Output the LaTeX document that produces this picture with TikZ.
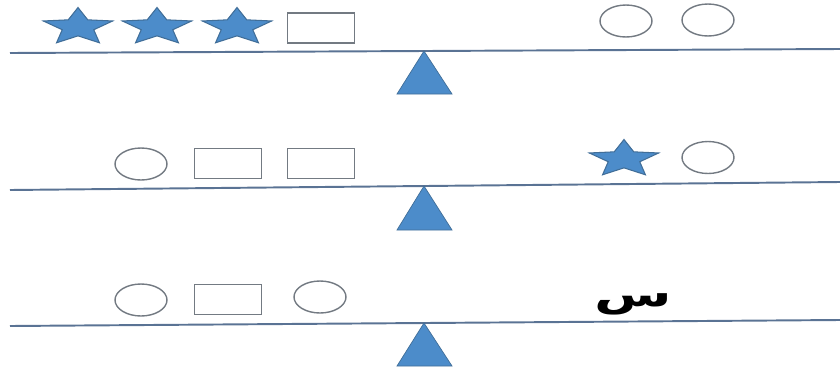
\documentclass[tikz,border=0pt]{standalone}
\usepackage{fontspec}
\usetikzlibrary{shapes.geometric}
\newfontfamily\arabicfont[Script=Arabic]{DejaVu Sans}
\TeXXeTstate=1

\definecolor{beamblue}{RGB}{90,115,148}
\definecolor{fillblue}{RGB}{76,140,202}
\definecolor{edgeblue}{RGB}{65,110,152}
\definecolor{outlinegray}{RGB}{115,122,130}

\tikzset{
  beam/.style={line width=1.1pt, beamblue},
  pivot/.style={fill=fillblue, draw=edgeblue, line width=0.4pt},
  starshape/.style={star, star points=5, star point ratio=2.2, minimum size=0.78cm,
    inner sep=0pt, fill=fillblue, draw=edgeblue, line width=0.6pt, xscale=1.87},
  ringshape/.style={ellipse, minimum width=1.04cm, minimum height=0.64cm,
    inner sep=0pt, draw=outlinegray, line width=0.8pt},
  boxshape/.style={rectangle, minimum width=1.34cm, minimum height=0.6cm,
    inner sep=0pt, draw=outlinegray, line width=0.8pt}
}

\begin{document}
\begin{tikzpicture}[x=0.02cm, y=-0.02cm]

    \useasboundingbox (0,0) rectangle (840,369);

    % ==========================================
    % TOP BALANCE
    % ==========================================

    % Beam and pivot
    \draw[beam] (10,53) -- (840,49);
    \fill[pivot] (424,51) -- (452,94) -- (397,94) -- cycle;

    % Left pan
    \node[starshape] (starA) at (78,27) {};
    \node[starshape] (starB) at (157,27) {};
    \node[starshape] (starC) at (237,27) {};
    \node[boxshape] (boxA) at (321,28) {};

    % Right pan
    \node[ringshape] (ringA) at (626,21) {};
    \node[ringshape] (ringB) at (708,20) {};

    % ==========================================
    % MIDDLE BALANCE
    % ==========================================

    % Beam and pivot
    \draw[beam] (10,190) -- (840,182);
    \fill[pivot] (424,186) -- (452,230) -- (397,230) -- cycle;

    % Left pan
    \node[ringshape] (ringC) at (141,164) {};
    \node[boxshape] (boxB) at (228,163.5) {};
    \node[boxshape] (boxC) at (321,163.5) {};

    % Right pan
    \node[starshape] (starD) at (624,159) {};
    \node[ringshape] (ringD) at (708,157.5) {};

    % ==========================================
    % BOTTOM BALANCE
    % ==========================================

    % Beam and pivot
    \draw[beam] (10,326) -- (840,320);
    \fill[pivot] (424,323) -- (452,366) -- (397,366) -- cycle;

    % Left pan
    \node[ringshape] (ringE) at (141,300) {};
    \node[boxshape] (boxD) at (228,299.5) {};
    \node[ringshape] (ringF) at (320,297) {};

    % Right pan: the unknown
    \node[inner sep=0pt, xscale=1.6] (unknown) at (633,304)
        {\arabicfont\bfseries\fontsize{20}{24}\selectfont\beginR س\endR};

\end{tikzpicture}
\end{document}
